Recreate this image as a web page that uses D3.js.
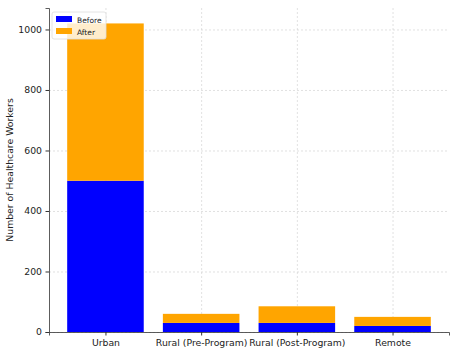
<!DOCTYPE html>
<html>
<head>
<meta charset="utf-8">
<script src="https://cdn.jsdelivr.net/npm/d3@7"></script>
<style>
  body { margin: 0; background: #fff; }
  svg, svg text { font-family: "DejaVu Sans", sans-serif; }
  .grid line { stroke: #ccc; stroke-dasharray: 2,2; stroke-width: 0.6; }
  .grid .domain { display: none; }
</style>
</head>
<body>
<div id="chart"></div>
<script>
const categories = ["Urban", "Rural (Pre-Program)", "Rural (Post-Program)", "Remote"];
const before = [500, 30, 30, 20];
const after = [520, 30, 55, 30];
const yTicks = [0, 200, 400, 600, 800, 1000];

const W = 457, H = 354;
const margin = {top: 8, right: 8, bottom: 22, left: 49};
const width = W - margin.left - margin.right;
const height = H - margin.top - margin.bottom;
const fs = 9.3;

const svg = d3.select("#chart").append("svg")
    .attr("width", W)
    .attr("height", H)
    .append("g")
    .attr("transform", `translate(${margin.left},${margin.top})`);

// matplotlib-like x: bars of width 0.8, 5% margin
const x = d3.scaleLinear()
    .domain([-0.59, categories.length - 1 + 0.59])
    .range([0, width]);
const barW = x(0.8) - x(0);

const ymax = d3.max(categories, (d, i) => before[i] + after[i]) * 1.05;
const y = d3.scaleLinear().domain([0, ymax]).range([height, 0]);

// grid
svg.append("g").attr("class", "grid")
    .call(d3.axisLeft(y).tickValues(yTicks).tickSize(-width).tickFormat(""));
svg.append("g").attr("class", "grid")
    .call(d3.axisBottom(x).tickValues(d3.range(categories.length)).tickSize(height).tickFormat(""));

// bars
svg.selectAll(".bar-before")
    .data(categories)
    .join("rect")
    .attr("class", "bar-before")
    .attr("x", (d, i) => x(i) - barW / 2)
    .attr("y", (d, i) => y(before[i]))
    .attr("width", barW)
    .attr("height", (d, i) => height - y(before[i]))
    .attr("fill", "#0000ff");

svg.selectAll(".bar-after")
    .data(categories)
    .join("rect")
    .attr("class", "bar-after")
    .attr("x", (d, i) => x(i) - barW / 2)
    .attr("y", (d, i) => y(before[i] + after[i]))
    .attr("width", barW)
    .attr("height", (d, i) => y(before[i]) - y(before[i] + after[i]))
    .attr("fill", "#ffa500");

// axes
const yAxis = svg.append("g")
    .attr("font-family", "DejaVu Sans")
    .call(d3.axisLeft(y).tickValues(yTicks).tickFormat(d3.format("d")).tickSize(3.5).tickPadding(3.5));
yAxis.select(".domain").attr("stroke", "#333").attr("stroke-width", 0.8);
yAxis.selectAll(".tick line").attr("stroke", "#333");
yAxis.selectAll("text").attr("font-size", fs).attr("fill", "#222");

const xAxis = svg.append("g")
    .attr("font-family", "DejaVu Sans")
    .attr("transform", `translate(0,${height})`)
    .call(d3.axisBottom(x).tickValues(d3.range(categories.length))
        .tickFormat(i => categories[i]).tickSize(3.5).tickPadding(3.5));
xAxis.select(".domain").attr("stroke", "#333").attr("stroke-width", 0.8);
xAxis.selectAll(".tick line").attr("stroke", "#333");
xAxis.selectAll("text").attr("font-size", fs).attr("fill", "#222");

// y label
svg.append("text")
    .attr("transform", `translate(${-36},${height / 2}) rotate(-90)`)
    .attr("text-anchor", "middle")
    .attr("font-size", fs)
    .attr("fill", "#222")
    .text("Number of Healthcare Workers");

// legend
const legend = svg.append("g").attr("transform", "translate(3,4)");
legend.append("rect")
    .attr("width", 54).attr("height", 27).attr("rx", 2)
    .attr("fill", "#fff").attr("fill-opacity", 0.8)
    .attr("stroke", "#ddd").attr("stroke-width", 0.8);
const items = [["Before", "#0000ff"], ["After", "#ffa500"]];
items.forEach((it, i) => {
    legend.append("rect")
        .attr("x", 4).attr("y", 4 + i * 12)
        .attr("width", 16).attr("height", 6)
        .attr("fill", it[1]);
    legend.append("text")
        .attr("x", 25).attr("y", 10.5 + i * 12)
        .attr("font-size", 7.5)
        .attr("fill", "#222")
        .text(it[0]);
});
</script>
</body>
</html>
